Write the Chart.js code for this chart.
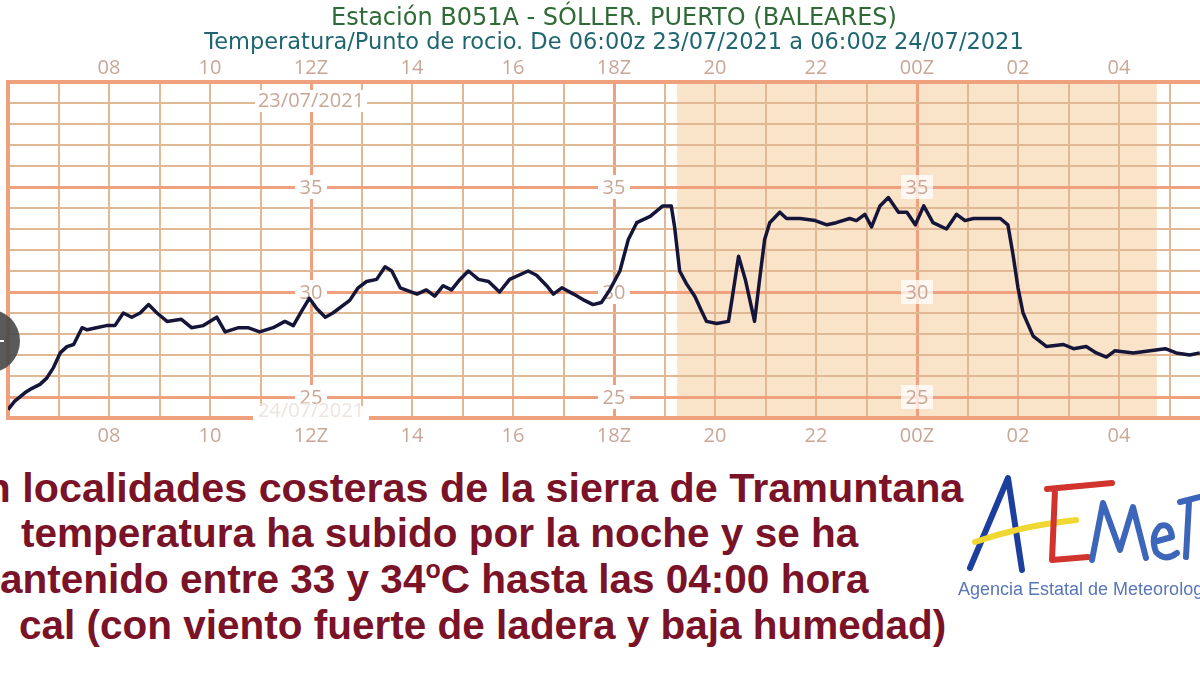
<!DOCTYPE html>
<html>
<head>
<meta charset="utf-8">
<script src="https://cdn.jsdelivr.net/npm/chart.js@4.4.1/dist/chart.umd.min.js"></script>
<style>
html, body { margin: 0; padding: 0; background: #fff; }
body { width: 1200px; height: 675px; overflow: hidden; position: relative; font-family: "Liberation Sans", Arial, sans-serif; }
#wrap { position: absolute; left: 0; top: 0; width: 1240px; height: 450px; }
.line { position: absolute; font-weight: bold; font-size: 40.5px; line-height: 40.5px; color: #7a1228; white-space: nowrap; }
.sup { font-size: 25px; position: relative; top: -15px; }
#blob { position: absolute; left: -44px; top: 309px; width: 64px; height: 64px; border-radius: 50%; background: rgba(72,72,72,0.9); }
#blob:after { content: ""; position: absolute; left: 42px; top: 31px; width: 6px; height: 2px; background: #fff; }
#logo { position: absolute; left: 0; top: 0; width: 1200px; height: 675px; pointer-events: none; }
</style>
</head>
<body>
<div id="wrap"><canvas id="chart"></canvas></div>

<div class="line" style="left:-42px; top:468px; font-size:41.3px">En localidades costeras de la sierra de Tramuntana</div>
<div class="line" style="left:21px; top:513px">temperatura ha subido por la noche y se ha</div>
<div class="line" style="left:-36px; top:559px">mantenido entre 33 y 34<span class="sup">o</span>C hasta las 04:00 hora</div>
<div class="line" style="left:19px; top:605px">cal (con viento fuerte de ladera y baja humedad)</div>

<svg id="logo" viewBox="0 0 1200 675">
  <g fill="none" stroke-linecap="round" stroke-linejoin="round" stroke-width="6">
    <path d="M970 568 L1008 478 L1022 570" stroke="#1c3f9e"/>
    <path d="M975 542 Q1020 526 1076 520" stroke="#f1d732"/>
    <path d="M1047 489 L1112 483 M1055 490 L1052 560 L1088 557" stroke="#d0342c"/>
    <path d="M1092 560 L1103 503 L1120 550 L1133 507 L1146 558" stroke="#3b66b9"/>
    <path d="M1154 542 L1172 537 Q1170 522 1160 526 Q1150 536 1156 552 Q1165 562 1177 553" stroke="#3b66b9"/>
    <path d="M1180 502 L1200 497 M1189 502 L1186 557" stroke="#3b66b9"/>
  </g>
  <text x="958" y="595" font-family="Liberation Sans, Arial, sans-serif" font-size="18" fill="#5876b8">Agencia Estatal de Meteorología</text>
</svg>

<div id="blob"></div>

<script>
// --- DATA: minutos desde las 06:00z del 23/07/2021, temperatura en ºC ---
const minutes = [
  0, 8, 20, 28, 38, 46, 54, 62, 70, 78,
  88, 94, 105, 117, 127, 137, 147, 157, 167, 177,
  189, 206, 218, 232, 248, 258, 274, 285, 299, 315,
  329, 339, 349, 358, 367, 377, 386, 406, 416, 426,
  438, 448, 456, 466,
  486, 497, 507, 517, 527, 537, 547, 559, 571, 584,
  596, 618, 628, 640, 648, 658, 672, 685, 695, 705,
  715, 727, 737, 747, 763, 778, 788, 792, 798, 806,
  816, 824, 830, 842, 856, 860, 868, 876, 887, 893,
  899, 905, 917, 925, 941,
  959, 973, 984, 1000, 1008, 1018, 1026, 1036, 1046, 1058,
  1068, 1078, 1088, 1099, 1115, 1127, 1137, 1147, 1163, 1179,
  1188, 1194, 1200, 1206, 1218, 1234, 1254, 1266, 1281, 1293,
  1305, 1315, 1337, 1357, 1375, 1388, 1404, 1416
];
const temps = [
  24.4, 24.8, 25.2, 25.4, 25.6, 25.9, 26.4, 27.1, 27.4, 27.5,
  28.3, 28.2, 28.3, 28.4, 28.4, 29.0, 28.8, 29.0, 29.4, 29.0,
  28.6, 28.7, 28.3, 28.4, 28.8, 28.1, 28.3, 28.3, 28.1, 28.3,
  28.6, 28.4, 29.1, 29.7, 29.2, 28.8, 29.0, 29.6, 30.2, 30.5,
  30.6, 31.2, 31.0, 30.2,
  29.9, 30.1, 29.8, 30.3, 30.1, 30.6, 31.0, 30.6, 30.5, 30.0,
  30.6, 31.0, 30.8, 30.3, 29.9, 30.2, 29.9, 29.6, 29.4, 29.5,
  30.1, 31.0, 32.5, 33.3, 33.6, 34.1, 34.1, 33.1, 31.0, 30.4,
  29.8, 29.1, 28.6, 28.5, 28.6, 29.6, 31.7, 30.6, 28.6, 30.6,
  32.5, 33.3, 33.8, 33.5, 33.5,
  33.4, 33.2, 33.3, 33.5, 33.4, 33.7, 33.1, 34.1, 34.5, 33.8,
  33.8, 33.2, 34.1, 33.3, 33.0, 33.7, 33.4, 33.5, 33.5, 33.5,
  33.2, 31.8, 30.2, 29.0, 27.9, 27.4, 27.5, 27.3, 27.4, 27.1,
  26.9, 27.2, 27.1, 27.2, 27.3, 27.1, 27.0, 27.1
];
const yLabels = [35, 30, 25];
const yLabelHours = [360, 720, 1080];   // 12Z, 18Z, 00Z
const night = [795, 1365];              // periodo nocturno (sombreado)

const TITLE = 'Estación B051A - SÓLLER. PUERTO (BALEARES)';
const SUBTITLE = 'Temperatura/Punto de rocio. De 06:00z 23/07/2021 a 06:00z 24/07/2021';

const THICK = '#eea17c';
const THIN = '#e1b894';
const LABEL = '#c9a797';

function hourLabel(v) {
  if (v % 120 !== 0 || v === 0 || v === 1440) return '';
  const h = (6 + v / 60) % 24;
  const s = String(h).padStart(2, '0');
  return h % 6 === 0 ? s + 'Z' : s;
}

const tickFont = { family: 'Open Sans', size: 20 };

const overlay = {
  id: 'overlay',
  beforeDraw(chart) {
    const { ctx, chartArea, scales } = chart;
    const x1 = scales.x.getPixelForValue(night[0]);
    const x2 = scales.x.getPixelForValue(night[1]);
    ctx.save();
    ctx.fillStyle = '#f9e3c9';
    ctx.fillRect(x1, chartArea.top, x2 - x1, chartArea.bottom - chartArea.top);
    ctx.restore();
  },
  beforeDatasetsDraw(chart) {
    const { ctx, chartArea, scales } = chart;
    ctx.save();
    ctx.font = '20px "Open Sans"';
    ctx.textAlign = 'center';
    ctx.textBaseline = 'middle';
    yLabelHours.forEach(m => {
      const x = scales.x.getPixelForValue(m);
      yLabels.forEach(v => {
        const y = scales.y.getPixelForValue(v);
        ctx.fillStyle = m >= night[0] ? 'rgba(255,255,255,0.75)' : '#fff';
        ctx.fillRect(x - 16, y - 12, 32, 24);
        ctx.fillStyle = LABEL;
        ctx.fillText(String(v), x, y + 1);
      });
    });
    // fechas sobre la línea de las 12Z
    const xd = scales.x.getPixelForValue(360);
    ctx.fillStyle = '#fff';
    ctx.fillRect(xd - 56, chartArea.top + 8, 112, 22);
    ctx.fillRect(xd - 58, chartArea.bottom - 12, 116, 14);
    ctx.fillStyle = LABEL;
    ctx.fillText('23/07/2021', xd, chartArea.top + 19);
    ctx.fillStyle = '#ede4de';
    ctx.fillText('24/07/2021', xd, chartArea.bottom - 7);
    ctx.restore();
  }
};

const xTicks = (pad) => ({
  stepSize: 60, autoSkip: false, maxRotation: 0, padding: pad,
  color: LABEL, font: tickFont, callback: hourLabel
});

new Chart(document.getElementById('chart'), {
  type: 'line',
  data: {
    datasets: [{
      label: 'Temperatura',
      data: minutes.map((m, i) => ({ x: m, y: temps[i] })),
      borderColor: '#15153a',
      borderWidth: 3.5,
      pointRadius: 0,
      tension: 0,
      fill: false,
      borderJoinStyle: 'round'
    }]
  },
  options: {
    responsive: true,
    maintainAspectRatio: false,
    animation: false,
    layout: { padding: { left: 8, right: 20, top: 0, bottom: 2 } },
    plugins: {
      legend: { display: false },
      tooltip: { enabled: false },
      title: {
        display: true, text: TITLE, color: '#2f6b37',
        font: { family: 'DejaVu Sans', size: 24, weight: 'normal', lineHeight: 1 },
        padding: { top: 7, bottom: 0 }
      },
      subtitle: {
        display: true, text: SUBTITLE, color: '#1f6670',
        font: { family: 'DejaVu Sans', size: 22.5, lineHeight: 1 },
        padding: { top: 0.5, bottom: 0 }
      }
    },
    scales: {
      x: {
        type: 'linear', position: 'bottom', min: 0, max: 1440,
        afterFit: s => { s.height = 30; },
        ticks: xTicks(6),
        grid: {
          drawTicks: false,
          color: c => (c.tick && c.tick.value % 360 === 0) ? THICK : THIN,
          lineWidth: c => (c.tick && c.tick.value % 360 === 0) ? 3 : 2
        },
        border: { color: THICK, width: 4 }
      },
      xTop: {
        type: 'linear', position: 'top', min: 0, max: 1440,
        afterFit: s => { s.height = 28; },
        ticks: xTicks(2),
        grid: { display: false, drawTicks: false },
        border: { color: THICK, width: 4 }
      },
      y: {
        min: 24, max: 40,
        afterFit: s => { s.width = 0; },
        ticks: { stepSize: 1, display: false, autoSkip: false },
        grid: {
          drawTicks: false,
          color: c => (c.tick && c.tick.value % 5 === 0) ? THICK : THIN,
          lineWidth: c => (c.tick && c.tick.value % 5 === 0) ? 3 : 2
        },
        border: { color: THICK, width: 4 }
      }
    }
  },
  plugins: [overlay]
});
</script>
</body>
</html>
